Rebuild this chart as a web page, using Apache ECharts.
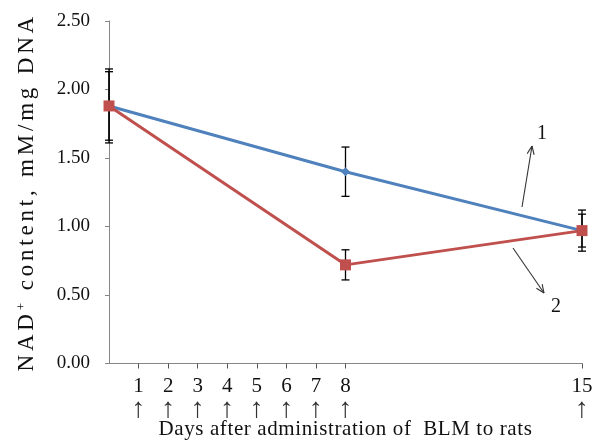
<!DOCTYPE html>
<html><head><meta charset="utf-8">
<script src="https://cdn.jsdelivr.net/npm/echarts@6/dist/echarts.min.js"></script>
<style>html,body{margin:0;padding:0;background:#fff}#c{width:597px;height:441px}</style>
</head><body><div id="c"></div>
<script>
// ---- data ----
const days = ['0', '8', '15'];
const series1 = [1.88, 1.40, 0.97];
const series1Err = [0.27, 0.18, 0.15];
const series2 = [1.88, 0.72, 0.97];
const series2Err = [0.25, 0.11, 0.12];
const yTickValues = [0, 0.5, 1, 1.5, 2, 2.5];
const injectionDays = ['1', '2', '3', '4', '5', '6', '7'];
const dayScale = ['0','1','2','3','4','5','6','7','8','9','10','11','12','13','14','15','16'];
const seriesLabels = ['1', '2'];
const yTitleMain = 'NAD';
const yTitleSup = '+';
const yTitleRest = ' content, mM/mg DNA';
const xTitle = 'Days after administration of  BLM to rats';

const chart = echarts.init(document.getElementById('c'));
const FONT = '"Liberation Serif", "Times New Roman", serif';
const labelRich = {
  n: {fontFamily: FONT, fontSize: 21, color: '#111', lineHeight: 22},
  a: {fontFamily: FONT, fontSize: 28, color: '#333', lineHeight: 24}
};
function dayLabel(v) { return '{n|' + v + '}\n{a|↑}'; }
// spread characters as individual rich tokens (letter spacing)
function spaced(str, style) { return str.split('').map(ch => '{' + style + '|' + ch + '}').join(''); }

function errSeries(vals, errs) {
  return {
    type: 'custom', xAxisIndex: 0, yAxisIndex: 0, z: 1, silent: true,
    data: vals.map((v, i) => [i, v - errs[i], v + errs[i]]),
    encode: {x: 0, y: [1, 2]},
    renderItem(params, api) {
      const lo = api.coord([api.value(0), api.value(1)]);
      const hi = api.coord([api.value(0), api.value(2)]);
      const w = 4;
      const st = {stroke: '#000', lineWidth: 1.3};
      return {type: 'group', children: [
        {type: 'line', shape: {x1: hi[0], y1: hi[1], x2: lo[0], y2: lo[1]}, style: st},
        {type: 'line', shape: {x1: hi[0] - w, y1: hi[1], x2: hi[0] + w, y2: hi[1]}, style: st},
        {type: 'line', shape: {x1: lo[0] - w, y1: lo[1], x2: lo[0] + w, y2: lo[1]}, style: st}
      ]};
    }
  };
}

function arrow(x1, y1, x2, y2) {
  const ang = Math.atan2(y2 - y1, x2 - x1);
  const L = 9, spread = 0.4;
  const st = {stroke: '#333', lineWidth: 1.1};
  return {type: 'group', children: [
    {type: 'line', shape: {x1, y1, x2, y2}, style: st},
    {type: 'line', shape: {x1: x2, y1: y2, x2: x2 - L * Math.cos(ang - spread), y2: y2 - L * Math.sin(ang - spread)}, style: st},
    {type: 'line', shape: {x1: x2, y1: y2, x2: x2 - L * Math.cos(ang + spread), y2: y2 - L * Math.sin(ang + spread)}, style: st}
  ]};
}

chart.setOption({
  animation: false,
  backgroundColor: '#fff',
  grid: {left: 109, right: 15, top: 21, bottom: 77.5, containLabel: false, outerBoundsMode: 'none'},
  xAxis: [{
    type: 'category', data: days, boundaryGap: false,
    axisLine: {lineStyle: {color: '#868686', width: 1}},
    axisTick: {show: true, length: 5, lineStyle: {color: '#555'}, interval: (i, v) => v !== '0'},
    axisLabel: {interval: (i, v) => v !== '0', formatter: dayLabel, rich: labelRich, margin: 12},
    name: spaced(xTitle, 'x'),
    nameLocation: 'middle', nameGap: 55, nameMoveOverlap: false,
    nameTextStyle: {rich: {x: {fontFamily: FONT, fontSize: 21, color: '#111', padding: [0, 0.6, 0, 0]}}}
  }, {
    type: 'category', data: dayScale, boundaryGap: false, position: 'bottom',
    axisLine: {show: false},
    axisTick: {show: true, length: 5, lineStyle: {color: '#555'}, interval: (i, v) => injectionDays.includes(v)},
    axisLabel: {interval: (i, v) => injectionDays.includes(v), formatter: dayLabel, rich: labelRich, margin: 12},
    splitLine: {show: false}
  }],
  yAxis: {
    type: 'value', min: yTickValues[0], max: yTickValues[yTickValues.length - 1], interval: 0.5,
    axisLine: {show: true, lineStyle: {color: '#868686'}},
    axisTick: {show: true, length: 4, lineStyle: {color: '#868686'}},
    splitLine: {show: false},
    axisLabel: {formatter: v => v.toFixed(2), fontFamily: FONT, fontSize: 19, color: '#111', margin: 19},
    name: spaced(yTitleMain, 't') + '{s|' + yTitleSup + '}' + spaced(yTitleRest, 't'),
    nameLocation: 'middle', nameGap: 71, nameRotate: 90, nameMoveOverlap: false,
    nameTextStyle: {rich: {
      t: {fontFamily: FONT, fontSize: 23, color: '#111', padding: [0, 3.8, 0, 0]},
      s: {fontFamily: FONT, fontSize: 13, color: '#111', verticalAlign: 'top', padding: [0, 3, 10, 0]}
    }}
  },
  series: [
    errSeries(series1, series1Err),
    errSeries(series2, series2Err),
    {type: 'line', name: seriesLabels[0], data: series1, z: 3,
     lineStyle: {color: '#4F81BD', width: 3}, itemStyle: {color: '#4F81BD'},
     symbol: 'diamond', symbolSize: 9, showAllSymbol: true},
    {type: 'line', name: seriesLabels[1], data: series2, z: 4,
     lineStyle: {color: '#C0504D', width: 3}, itemStyle: {color: '#C0504D'},
     symbol: 'rect', symbolSize: 11, showAllSymbol: true}
  ],
  graphic: [
    arrow(522, 207, 532, 146),
    arrow(513, 248, 544, 293),
    {type: 'text', x: 537, y: 124, style: {text: seriesLabels[0], font: '20px ' + FONT, fill: '#111'}},
    {type: 'text', x: 551, y: 297, style: {text: seriesLabels[1], font: '20px ' + FONT, fill: '#111'}}
  ]
});
</script></body></html>
